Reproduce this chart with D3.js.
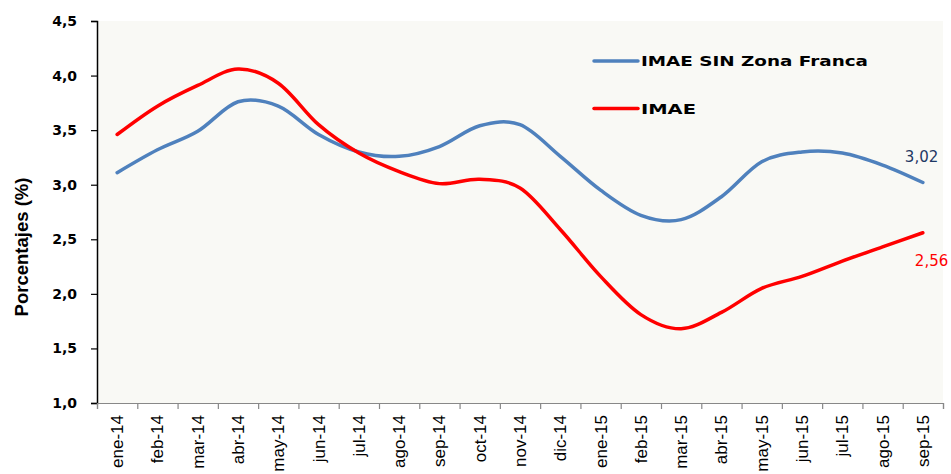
<!DOCTYPE html>
<html>
<head>
<meta charset="utf-8">
<script src="https://cdn.jsdelivr.net/npm/d3@7.9.0/dist/d3.min.js"></script>
<style>
  html, body { margin: 0; padding: 0; background: #fff; }
  svg { display: block; }
</style>
</head>
<body>
<svg id="chart" width="951" height="474"></svg>
<script>
// Meses (eje X)
const months = ['ene-14', 'feb-14', 'mar-14', 'abr-14', 'may-14', 'jun-14', 'jul-14',
  'ago-14', 'sep-14', 'oct-14', 'nov-14', 'dic-14', 'ene-15', 'feb-15', 'mar-15',
  'abr-15', 'may-15', 'jun-15', 'jul-15', 'ago-15', 'sep-15'];

// IMAE SIN Zona Franca
const imaeSinZF = [3.11, 3.32, 3.49, 3.76, 3.72, 3.46, 3.30, 3.26, 3.35, 3.54, 3.55,
  3.26, 2.95, 2.72, 2.68, 2.89, 3.21, 3.30, 3.29, 3.18, 3.02];

// IMAE
const imae = [3.46, 3.72, 3.91, 4.06, 3.93, 3.55, 3.29, 3.12, 3.01, 3.05, 2.97,
  2.59, 2.16, 1.81, 1.68, 1.83, 2.05, 2.16, 2.30, 2.43, 2.56];

const yTicks = [1.0, 1.5, 2.0, 2.5, 3.0, 3.5, 4.0, 4.5];

const series = [
  { name: 'IMAE SIN Zona Franca', values: imaeSinZF, color: '#4f81bd', labelColor: '#1f3864' },
  { name: 'IMAE', values: imae, color: '#ff0000', labelColor: '#ff0000' }
];

const svg = d3.select('#chart');
const plot = { left: 97, right: 943, top: 21, bottom: 403 };

const x = d3.scaleBand().domain(months).range([plot.left, plot.right]);
const xEdges = d3.scaleLinear().domain([0, months.length]).range([plot.left, plot.right]);
const y = d3.scaleLinear().domain([1, 4.5]).range([plot.bottom, plot.top]);

const comma = d3.formatLocale({ decimal: ',', thousands: '.', grouping: [3], currency: ['', ''] });

// fondo del área de trazado
svg.append('rect')
  .attr('x', plot.left).attr('y', plot.top)
  .attr('width', plot.right - plot.left).attr('height', plot.bottom - plot.top)
  .attr('fill', '#f9f9f5');

// eje Y
const yAxis = svg.append('g')
  .attr('transform', `translate(${plot.left},0)`)
  .call(d3.axisLeft(y).tickValues(yTicks).tickFormat(comma.format('.1f')).tickSize(6).tickPadding(14));
yAxis.select('.domain').attr('stroke', '#000').attr('stroke-width', 1.5);
yAxis.selectAll('.tick line').attr('stroke', '#000').attr('stroke-width', 1.2);
yAxis.selectAll('.tick text')
  .attr('font-family', '"DejaVu Sans", Verdana, sans-serif')
  .attr('font-weight', 'bold')
  .attr('font-size', 14)
  .attr('fill', '#000');

// eje X: marcas en los bordes de cada categoría
const xTickAxis = svg.append('g')
  .attr('transform', `translate(0,${plot.bottom})`)
  .call(d3.axisBottom(xEdges).tickValues(d3.range(months.length + 1)).tickFormat('').tickSize(6));
xTickAxis.select('.domain').attr('stroke', '#888').attr('stroke-width', 1.2);
xTickAxis.selectAll('.tick line').attr('stroke', '#888').attr('stroke-width', 1.2);

// etiquetas del eje X
const xLabelAxis = svg.append('g')
  .attr('transform', `translate(0,${plot.bottom})`)
  .call(d3.axisBottom(x).tickSize(0));
xLabelAxis.select('.domain').remove();
xLabelAxis.selectAll('.tick text')
  .attr('font-family', '"Liberation Sans", Arial, sans-serif')
  .attr('font-size', 17)
  .attr('fill', '#000')
  .attr('text-anchor', 'end')
  .attr('dy', '0.35em')
  .attr('transform', 'translate(0,12) rotate(-90)')
  .attr('x', 0).attr('y', 0);

// título del eje Y
svg.append('text')
  .attr('transform', `translate(28,${(plot.top + plot.bottom) / 2 + 35}) rotate(-90)`)
  .attr('text-anchor', 'middle')
  .attr('font-family', '"Liberation Sans", Arial, sans-serif')
  .attr('font-weight', 'bold')
  .attr('font-size', 18.5)
  .attr('fill', '#000')
  .text('Porcentajes (%)');

// líneas
const line = d3.line()
  .x((d, i) => x(months[i]) + x.bandwidth() / 2)
  .y(d => y(d))
  .curve(d3.curveCardinal.tension(0));

series.forEach(s => {
  svg.append('path')
    .datum(s.values)
    .attr('fill', 'none')
    .attr('stroke', s.color)
    .attr('stroke-width', 3.5)
    .attr('stroke-linecap', 'round')
    .attr('d', line);
});

// etiquetas del último valor
const last = months.length - 1;
const lastX = x(months[last]) + x.bandwidth() / 2;
svg.append('text')
  .attr('x', lastX - 18).attr('y', y(imaeSinZF[last]) - 21)
  .attr('font-family', '"DejaVu Sans", sans-serif')
  .attr('font-size', 15)
  .attr('fill', series[0].labelColor)
  .text(comma.format('.2f')(imaeSinZF[last]));
svg.append('text')
  .attr('x', lastX - 8).attr('y', y(imae[last]) + 33)
  .attr('font-family', '"DejaVu Sans", sans-serif')
  .attr('font-size', 15)
  .attr('fill', series[1].labelColor)
  .text(comma.format('.2f')(imae[last]));

// leyenda
const legend = svg.append('g').attr('transform', 'translate(594,61)');
series.forEach((s, i) => {
  const g = legend.append('g').attr('transform', `translate(0,${i * 47.5})`);
  g.append('line')
    .attr('x1', 0).attr('x2', 44).attr('y1', 0).attr('y2', 0)
    .attr('stroke', s.color).attr('stroke-width', 3.5).attr('stroke-linecap', 'round');
  g.append('text')
    .attr('x', 47).attr('y', 5)
    .attr('font-family', '"DejaVu Sans", Verdana, sans-serif')
    .attr('font-weight', 'bold')
    .attr('font-size', 14)
    .attr('fill', '#000')
    .attr('textLength', i === 0 ? 227 : 55)
    .attr('lengthAdjust', 'spacingAndGlyphs')
    .text(s.name);
});
</script>
</body>
</html>
